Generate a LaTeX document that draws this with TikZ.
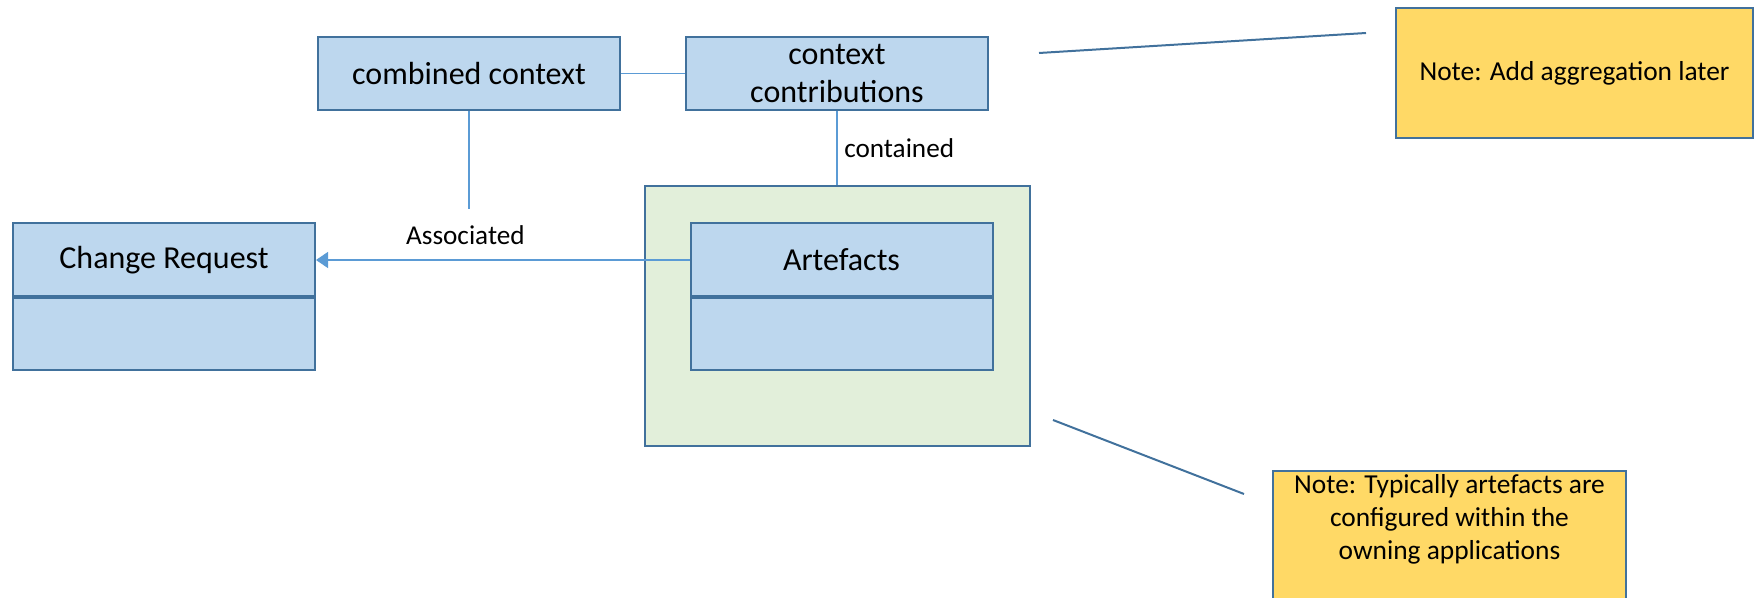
\documentclass[tikz,border=0pt]{standalone}
\usepackage{fontspec}
\setmainfont{Carlito}
\usetikzlibrary{
    arrows.meta,
    positioning,
}
\definecolor{boxblue}{HTML}{BDD7EE}
\definecolor{boxedge}{HTML}{41719C}
\definecolor{linkblue}{HTML}{5B9BD5}
\definecolor{pkggreen}{HTML}{E2EFDA}
\definecolor{notegold}{HTML}{FFD966}

\begin{document}
\begin{tikzpicture}[
        x=0.5pt, y=-0.5pt,
        classbox/.style={rectangle, draw=boxedge, fill=boxblue, line width=1pt, minimum width=151pt, minimum height=36.5pt, inner sep=0pt, align=center, font=\fontsize{16}{19}\selectfont},
        classbody/.style={rectangle, draw=boxedge, fill=boxblue, line width=1pt, minimum width=151pt, minimum height=36pt, inner sep=0pt},
        pkgbox/.style={rectangle, draw=boxedge, fill=pkggreen, line width=1pt, minimum width=192.5pt, minimum height=130pt},
        notebox/.style={rectangle, draw=boxedge, fill=notegold, line width=0.8pt, inner sep=0pt},
        notetext/.style={align=center, font=\fontsize{13.7}{16.5}\selectfont},
        link/.style={draw=linkblue, line width=0.6pt},
        noteline/.style={draw=boxedge, line width=1pt},
        linklabel/.style={font=\fontsize{13.6}{16}\selectfont},
        ]
        \clip (0,0) rectangle (1760,598);
        % classes on top
        \node[classbox] (combined) at (469,73.5)  {combined context};
        \node[classbox] (contrib)  at (837,73.5)  {context\\contributions};
        % package with artefacts
        \node[pkgbox]    (artpkg)  at (837,316) {};
        \node[classbox]  (arthead) at (841.5,260) {Artefacts};
        \node[classbody] (artbody) [below=0pt of arthead] {};
        \node[classbox]  (crhead)  at (164,260) {Change Request};
        \node[classbody] (crbody)  [below=0pt of crhead] {};
        % notes
        \node[notebox, minimum width=178.5pt, minimum height=65pt, notetext] (note1) at (1574.5,73) {Note: Add aggregation later};
        \node[notebox, minimum width=176.5pt, minimum height=80pt, anchor=north] (note2) at (1449.5,470) {};
        \node[notetext, anchor=north, inner ysep=2pt] (note2text) at (note2.north) {Note: Typically artefacts are\\configured within the\\owning applications};
        % connectors
        \coordinate (assocend) at (469,209);
        \draw[link] (combined) -- (contrib);
        \draw[link] (combined) -- (assocend);
        \draw[link] (contrib.south) -- (artpkg.north) node[linklabel, midway, right=0pt] {contained};
        \draw[link, -{Triangle[length=6pt, width=8pt]}] (arthead.west) -- (crhead.east)
            node[linklabel, pos=0.6, above=4pt] {Associated};
        \coordinate (n1a) at (1039,53);
        \coordinate (n1b) at (1366,33);
        \coordinate (n2a) at (1053,420);
        \coordinate (n2b) at (1244,494);
        \draw[noteline] (n1a) -- (n1b);
        \draw[noteline] (n2a) -- (n2b);
    \end{tikzpicture}
\end{document}
